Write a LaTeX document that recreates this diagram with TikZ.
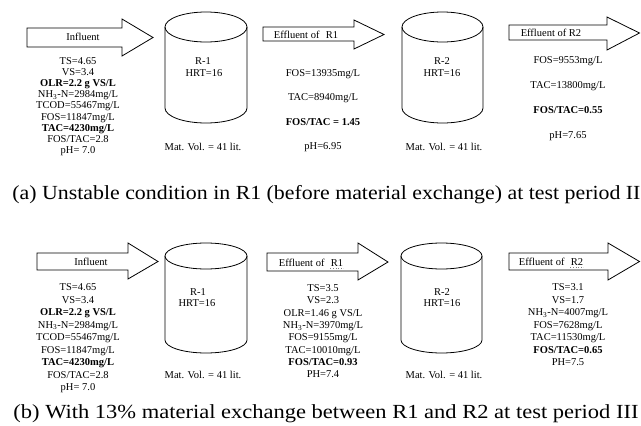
\documentclass[tikz,border=0pt]{standalone}
\usepackage{graphicx}
\usepackage{fontspec}
\setmainfont{Liberation Serif}
\newcommand\blockarrow[8]{%
  \draw (#1,#4) -- (#2,#4) -- (#2,#6) -- (#3,#8) -- (#2,#7) -- (#2,#5) -- (#1,#5) -- cycle;}
\newcommand\drawcyl[5]{% cx rx ytop ybot ry
  \draw (#1,#3) ellipse [x radius=#2pt, y radius=#5pt];
  \draw (#1-#2,#3) -- (#1-#2,#4) arc[start angle=180,end angle=360,x radius=#2pt,y radius=#5pt] -- (#1+#2,#3);}
\begin{document}
\begin{tikzpicture}[x=1pt,y=-1pt,line width=0.8pt,
  txt/.style={anchor=base,inner sep=0pt,font=\fontsize{10.5}{12}\selectfont},
  captxt/.style={anchor=base west,inner sep=0pt},
  squig/.style={gray,dotted,line width=0.6pt}]
\useasboundingbox (0,0) rectangle (641,426);

% ---------- (a) ----------
\blockarrow{27}{122}{153}{28}{47}{19}{56}{37.5}
\blockarrow{263}{354}{384}{27}{41}{20}{49}{34.5}
\blockarrow{509}{607}{639.5}{25}{40}{17}{50}{33}
\drawcyl{206}{41}{27}{108}{15}
\drawcyl{442.5}{40.5}{27}{108}{15}

\node[txt] (aIn) at (83,40.8) {Influent};
\node[txt] (aE1) at (306,38.6) {Effluent of\hspace{0.6em}R1};
\node[txt] (aE2) at (551,36.6) {Effluent of R2};

\node[txt] (aR1) at (203,64.6) {R-1};
\node[txt] (aH1) at (204,76.8) {HRT=16};
\node[txt] (aM1) at (203,150.2) {Mat. Vol. = 41 lit.};
\node[txt] (aR2) at (442,64.6) {R-2};
\node[txt] (aH2) at (442,76.8) {HRT=16};
\node[txt] (aM2) at (444,150.2) {Mat. Vol. = 41 lit.};

\foreach \t [count=\i] in {{TS=4.65},{VS=3.4},{\bfseries OLR=2.2 g VS/L},{NH\textsubscript{3}-N=2984mg/L},{TCOD=55467mg/L},{FOS=11847mg/L},{\bfseries TAC=4230mg/L},{FOS/TAC=2.8},{pH= 7.0}}
  \node[txt] (aInT\i) at (78,{64.5+11.1*(\i-1)}) {\t};
\foreach \t [count=\i] in {{FOS=13935mg/L},{TAC=8940mg/L},{\bfseries FOS/TAC = 1.45},{pH=6.95}}
  \node[txt] (aE1T\i) at (323,{76.5+24.3*(\i-1)}) {\t};
\foreach \t [count=\i] in {{FOS=9553mg/L},{TAC=13800mg/L},{\bfseries FOS/TAC=0.55},{pH=7.65}}
  \node[txt] (aE2T\i) at (568,{63.5+25*(\i-1)}) {\t};

\node[captxt] (capA) at (12,199) {\resizebox{628pt}{\height}{\fontsize{20}{24}\selectfont (a) Unstable condition in R1 (before material exchange) at test period II}};

% ---------- (b) ----------
\blockarrow{37}{128}{158}{253}{270}{243}{279}{261.5}
\blockarrow{267}{358}{388}{253}{271}{243}{280}{262}
\blockarrow{509}{608}{639.5}{253}{270}{243}{280}{261.5}
\drawcyl{206}{41}{256}{340}{13}
\drawcyl{441.5}{40.5}{256}{340}{13}

\node[txt] (bIn) at (91,265.5) {Influent};
\node[txt] (bE1) at (311,266.5) {Effluent of\hspace{0.6em}R1};
\node[txt] (bE2) at (551,265.5) {Effluent of\hspace{0.6em}R2};
\draw[squig] ([xshift=-13pt,yshift=-2.2pt]bE1.base east) -- ([yshift=-2.2pt]bE1.base east);
\draw[squig] ([xshift=-13pt,yshift=-2.2pt]bE2.base east) -- ([yshift=-2.2pt]bE2.base east);

\node[txt] (bR1) at (198,295.5) {R-1};
\node[txt] (bH1) at (197,306.8) {HRT=16};
\node[txt] (bM1) at (203,378.5) {Mat. Vol. = 41 lit.};
\node[txt] (bR2) at (442,295.5) {R-2};
\node[txt] (bH2) at (442,306.8) {HRT=16};
\node[txt] (bM2) at (444,378.5) {Mat. Vol. = 41 lit.};

\foreach \t [count=\i] in {{TS=4.65},{VS=3.4},{\bfseries OLR=2.2 g VS/L},{NH\textsubscript{3}-N=2984mg/L},{TCOD=55467mg/L},{FOS=11847mg/L},{\bfseries TAC=4230mg/L},{FOS/TAC=2.8},{pH= 7.0}}
  \node[txt] (bInT\i) at (78,{290.5+12.5*(\i-1)}) {\t};
\foreach \t [count=\i] in {{TS=3.5},{VS=2.3},{OLR=1.46 g VS/L},{NH\textsubscript{3}-N=3970mg/L},{FOS=9155mg/L},{TAC=10010mg/L},{\bfseries FOS/TAC=0.93},{PH=7.4}}
  \node[txt] (bE1T\i) at (323,{291.5+12.3*(\i-1)}) {\t};
\foreach \t [count=\i] in {{TS=3.1},{VS=1.7},{NH\textsubscript{3}-N=4007mg/L},{FOS=7628mg/L},{TAC=11530mg/L},{\bfseries FOS/TAC=0.65},{PH=7.5}}
  \node[txt] (bE2T\i) at (568,{290.5+12.5*(\i-1)}) {\t};

\node[captxt] (capB) at (13,418) {\resizebox{625pt}{\height}{\fontsize{20}{24}\selectfont (b) With 13\% material exchange between R1 and R2 at test period III}};
\end{tikzpicture}
\end{document}
